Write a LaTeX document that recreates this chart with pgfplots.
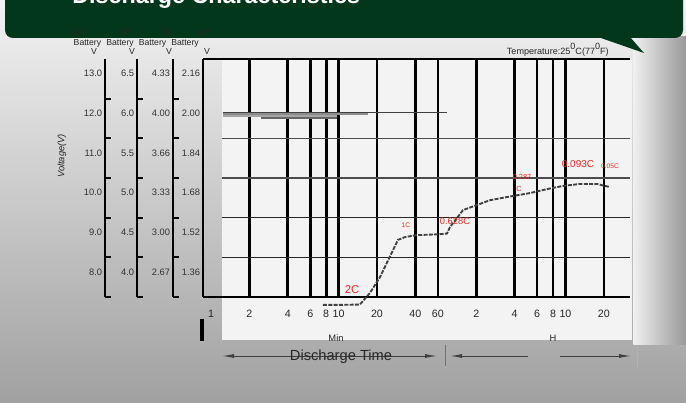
\documentclass[border=0pt]{standalone}
\usepackage{pgfplots}
\pgfplotsset{compat=1.18}
\usepackage{fontspec}
\setmainfont{Liberation Sans}
\usetikzlibrary{arrows.meta}
\definecolor{banner}{RGB}{3,55,27}
\definecolor{lbl}{RGB}{240,40,40}
\definecolor{panel}{RGB}{243,243,243}
\pgfplotsset{sidescale/.style={
  scale only axis, width=1pt, height=178.5pt, anchor=south west,
  xmin=0, xmax=1, ymin=7.5, ymax=13.5, hide x axis,
  axis y line*=left,
  axis line style={line width=2.2pt, black, -},
  ytick={8,9,10,11,12,13},
  major tick length=0pt,
  minor ytick={7.5,8.5,9.5,10.5,11.5,12.5},
  minor tick length=4.5pt,
  tick align=inside,
  minor tick style={line width=1.4pt, black},
  yticklabel style={font=\fontsize{7}{8}\selectfont, text=black!80, yshift=4pt, inner sep=2pt},
}}
\begin{document}
\begin{tikzpicture}
\useasboundingbox (0,0) rectangle (514.5pt,302.25pt);
\clip (0,0) rectangle (514.5pt,302.25pt);
% background
\shade[top color=black!5, bottom color=black!37] (0,0) rectangle (514.5pt,302.25pt);
\shade[left color=black!6, right color=black!40] (475pt,44pt) rectangle (514.5pt,275pt);
\fill[panel] (166.5pt,47.25pt) rectangle (474pt,257.25pt);
% banner
\fill[banner, rounded corners=6pt] (3.75pt,273.75pt) rectangle (512.25pt,320pt);
\fill[banner] (448.5pt,274.5pt) -- (483pt,262.5pt) -- (472.5pt,274.5pt) -- cycle;
\node[anchor=base west, text=white, font=\fontsize{17.5}{19}\selectfont\bfseries, inner sep=0pt] at (54pt,299.5pt) {Discharge Characteristics};
% headers
\begin{scope}[every node/.style={font=\fontsize{6.5}{7}\selectfont, text=black!85, inner sep=0pt}]
\node at (58.5pt,278.25pt) {12V};
\node at (93.75pt,278.25pt) {6V};
\node at (125.25pt,278.25pt) {4V};
\node at (153pt,278.25pt) {2V};
\node at (65.6pt,270pt) {Battery};
\node at (90pt,270pt) {Battery};
\node at (114.4pt,270pt) {Battery};
\node at (138.75pt,270pt) {Battery};
\node at (70.5pt,263.25pt) {V};
\node at (99pt,263.25pt) {V};
\node at (126.75pt,263.25pt) {V};
\node at (155.25pt,263.25pt) {V};
\end{scope}
\node[anchor=east, font=\fontsize{6.8}{7}\selectfont, text=black!85, inner sep=0pt] at (456.75pt,264.75pt) {Temperature:25\raisebox{1.1ex}{0}C(77\raisebox{1.1ex}{0}F)};
\node[rotate=90, font=\fontsize{7}{8}\selectfont\itshape, text=black!85] at (46.5pt,185.25pt) {Voltage(V)};
% side voltage scales
\begin{axis}[sidescale, at={(78.75pt,79.5pt)}, yticklabels={8.0,9.0,10.0,11.0,12.0,13.0}]
\end{axis}
\begin{axis}[sidescale, at={(102.75pt,79.5pt)}, yticklabels={4.0,4.5,5.0,5.5,6.0,6.5}]
\end{axis}
\begin{axis}[sidescale, at={(129.75pt,79.5pt)}, yticklabels={2.67,3.00,3.33,3.66,4.00,4.33}]
\end{axis}
% main axis (2V scale)
\begin{axis}[
  at={(152.25pt,79.5pt)}, anchor=south west,
  scale only axis, width=320.25pt, height=178.5pt,
  xmode=log, xmin=0.866, xmax=1923, ymin=7.5, ymax=13.5,
  axis x line*=box, axis y line*=left, separate axis lines,
  axis line style={line width=2.2pt, black, -},
  clip=false,
  major tick length=0pt,
  xtick={1,2,4,6,8,10,20,40,60,120,240,360,480,600,1200},
  xticklabels={1,2,4,6,8,10,20,40,60,2,4,6,8,10,20},
  minor xtick={},
  extra x ticks={2,4,6,8,10,20,40,60,120,240,360,480,600,1200},
  extra x tick labels={},
  extra x tick style={grid=major, major grid style={black, line width=2pt}},
  ytick={8,9,10,11,12,13},
  yticklabels={1.36,1.52,1.68,1.84,2.00,2.16},
  minor ytick={},
  xticklabel style={font=\fontsize{8}{9}\selectfont, text=black!85, yshift=-6pt},
  yticklabel style={font=\fontsize{7}{8}\selectfont, text=black!80, yshift=4pt, inner sep=2pt},
]
% horizontal reference lines
\addplot[black!70, line width=1pt] coordinates {(1.22,11.5) (1923,11.5)};
\addplot[black!70, line width=1pt] coordinates {(1.22,10.5) (1923,10.5)};
\addplot[black!85, line width=0.5pt] coordinates {(1.22,9.5) (1923,9.5)};
\addplot[black!85, line width=0.5pt] coordinates {(1.22,8.5) (1923,8.5)};
% initial voltage traces
\addplot[black!75, line width=0.8pt] coordinates {(1.24,12.16) (70.7,12.16)};
\addplot[black!45, line width=1.2pt] coordinates {(1.24,12.11) (17,12.11)};
\addplot[black!35, line width=1.2pt] coordinates {(1.24,12.06) (9.7,12.06)};
\addplot[black!60, line width=1pt] coordinates {(2.47,12.01) (9.7,12.01)};
% final discharge voltage curve
\addplot[black!75, line width=1.4pt, dash pattern=on 3pt off 1pt] coordinates {
(7.55,7.30) (10,7.30) (14.7,7.31) (17.6,7.60) (21.1,8.00) (23.9,8.36) (26.7,8.68)
(29.2,8.94) (33.1,9.01) (41.1,9.06) (60,9.08) (70.7,9.10) (74.6,9.26) (84.7,9.49)
(94.4,9.69) (121.6,9.82) (153.7,9.94) (209,10.02) (316,10.12) (430,10.22)
(574,10.30) (780,10.35) (1060,10.35) (1340,10.27)};
\end{axis}
% rate labels
\begin{scope}[every node/.style={text=lbl, inner sep=0pt}]
\node[font=\fontsize{8.5}{9}\selectfont] at (264pt,84.75pt) {2C};
\node[font=\fontsize{5}{6}\selectfont] at (304.5pt,133.5pt) {1C};
\node[font=\fontsize{7}{8}\selectfont] at (341.25pt,136.5pt) {0.628C};
\node[font=\fontsize{5.5}{6}\selectfont] at (391.5pt,169.5pt) {0.287};
\node[font=\fontsize{5.5}{6}\selectfont] at (389.25pt,160.5pt) {C};
\node[font=\fontsize{7.5}{8}\selectfont] at (433.5pt,179.25pt) {0.093C};
\node[font=\fontsize{5}{6}\selectfont] at (457.5pt,177.75pt) {0.05C};
\end{scope}
% axis unit labels
\node[font=\fontsize{7}{8}\selectfont, text=black!85] at (252pt,48.75pt) {Min};
\node[font=\fontsize{7}{8}\selectfont, text=black!85] at (414.75pt,48.75pt) {H};
\draw[black, line width=3pt] (151.5pt,63pt) -- (151.5pt,46.5pt);
% discharge time arrows
\draw[black!75, line width=0.7pt, {Latex[length=9pt,width=3pt]}-{Latex[length=9pt,width=3pt]}] (166.5pt,35.25pt) -- (327.75pt,35.25pt);
\node[font=\fontsize{11}{12}\selectfont, text=black!85] at (255.75pt,34.5pt) {Discharge Time};
\draw[black!55, line width=0.7pt] (333.75pt,43.5pt) -- (333.75pt,27.75pt);
\draw[black!75, line width=0.7pt, {Latex[length=9pt,width=3pt]}-] (337.5pt,35.25pt) -- (396pt,35.25pt);
\draw[black!75, line width=0.7pt, -{Latex[length=9pt,width=3pt]}] (420pt,35.25pt) -- (473.25pt,35.25pt);
\draw[black!30, line width=0.7pt] (477.75pt,42.75pt) -- (477.75pt,26.25pt);
\end{tikzpicture}
\end{document}
